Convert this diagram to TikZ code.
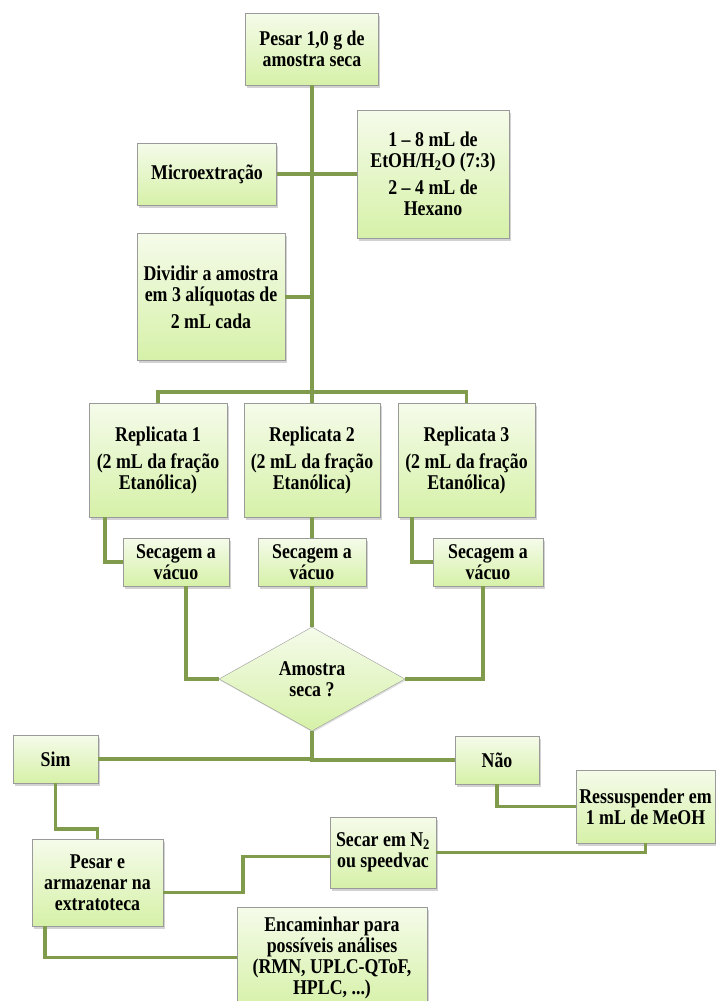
\documentclass[tikz,border=0pt]{standalone}
\usepackage{fontspec}
\setmainfont{Liberation Serif}[FakeStretch=0.85]
\usepackage{tikz}
\usetikzlibrary{shapes.geometric,shadows,calc}
\definecolor{boxtop}{HTML}{F5FBEA}
\definecolor{boxbottom}{HTML}{D6F1A8}
\definecolor{boxline}{HTML}{9A9A9A}
\definecolor{linkgreen}{HTML}{7F9B4B}

\begin{document}
\begin{tikzpicture}[
    x=1pt, y=-1pt,
    box/.style={rectangle, draw=boxline, thin, top color=boxtop, bottom color=boxbottom, drop shadow={shadow xshift=1.5pt, shadow yshift=-2.5pt, opacity=0.35}, align=center, inner sep=2pt, font=\fontsize{21}{21}\selectfont\bfseries},
    dia/.style={diamond, draw=boxline, thin, top color=boxtop, bottom color=boxbottom, drop shadow={shadow xshift=1pt, shadow yshift=-1.5pt, opacity=0.25}, align=center, inner sep=0pt, minimum width=186pt, minimum height=104pt, font=\fontsize{21}{21}\selectfont\bfseries},
    link/.style={draw=linkgreen, line width=3.5pt}
  ]
    \path[use as bounding box, fill=white] (0,0) rectangle (715,1001);

    \node[box, minimum width=133pt, minimum height=72pt] (weigh) at (312,49) {Pesar 1,0 g de\\amostra seca};
    \node[box, minimum width=139pt, minimum height=62pt] (micro) at (207,174) {Microextração};
    \node[box, minimum width=152pt, minimum height=128pt] (solv) at (433,174) {1 – 8 mL de\\EtOH/H\textsubscript{2}O (7:3)\\[6pt]2 – 4 mL de\\Hexano};
    \node[box, minimum width=148pt, minimum height=127pt] (split) at (211,297) {Dividir a amostra\\em 3 alíquotas de\\[6pt]2 mL cada};

    \node[box, minimum width=138pt, minimum height=114pt] (rep1) at (158,460) {Replicata 1\\[6pt](2 mL da fração\\Etanólica)};
    \node[box, minimum width=136pt, minimum height=114pt] (rep2) at (312,460) {Replicata 2\\[6pt](2 mL da fração\\Etanólica)};
    \node[box, minimum width=137pt, minimum height=114pt] (rep3) at (466.5,460) {Replicata 3\\[6pt](2 mL da fração\\Etanólica)};
    \node[box, minimum width=106pt, minimum height=48pt] (dry1) at (176,562) {Secagem a\\vácuo};
    \node[box, minimum width=108pt, minimum height=48pt] (dry2) at (312,562) {Secagem a\\vácuo};
    \node[box, minimum width=110pt, minimum height=48pt] (dry3) at (488,562) {Secagem a\\vácuo};

    \node[dia] (check) at (312,679) {Amostra\\seca ?};
    \node[box, minimum width=85pt, minimum height=48pt] (yes) at (55.5,759) {Sim};
    \node[box, minimum width=84pt, minimum height=48pt] (no) at (497,760) {Não};
    \node[box, minimum width=139pt, minimum height=73pt] (resus) at (645.5,806.5) {Ressuspender em\\1 mL de MeOH};
    \node[box, minimum width=106pt, minimum height=71pt] (evap) at (383,852.5) {Secar em N\textsubscript{2}\\ou speedvac};
    \node[box, minimum width=131pt, minimum height=87pt] (store) at (97.5,882.5) {Pesar e\\armazenar na\\extratoteca};
    \node[box, minimum width=190pt, minimum height=101pt] (send) at (332,957.5) {Encaminhar para\\possíveis análises\\(RMN, UPLC-QToF,\\HPLC, ...)};

    % trunk and the three replicates
    \coordinate (bar) at (312,392);
    \draw[link] (weigh.south) -- (rep2.north);
    \draw[link] (micro.east) -- (solv.west);
    \draw[link] (split.east) -- (split.east -| weigh.south);
    \draw[link] (rep1.north) |- (bar) -| (rep3.north);
    \draw[link] ([xshift=16pt]rep1.south west) |- (dry1.west);
    \draw[link] (rep2.south) -- (dry2.north);
    \draw[link] ([xshift=14pt]rep3.south west) |- (dry3.west);

    % decision
    \draw[link] ([xshift=10pt]dry1.south) |- (check.west);
    \draw[link] (dry2.south) -- (check.north);
    \draw[link] ([xshift=-5pt]dry3.south) |- (check.east);
    \draw[link] (check.south) |- (yes.east);
    \draw[link] (check.south) |- (no.west);

    % after the decision
    \draw[link] (no.south) |- (resus.west);
    \draw[link] (resus.south) |- (evap.east);
    \draw[link] ([yshift=-4pt]evap.west) -- ++(-87,0) |- ([yshift=-10pt]store.east);
    \draw[link] (yes.south) -- ++(0,46) -| (store.north);
    \draw[link] ([xshift=13pt]store.south west) |- (send.west);
  \end{tikzpicture}
\end{document}
